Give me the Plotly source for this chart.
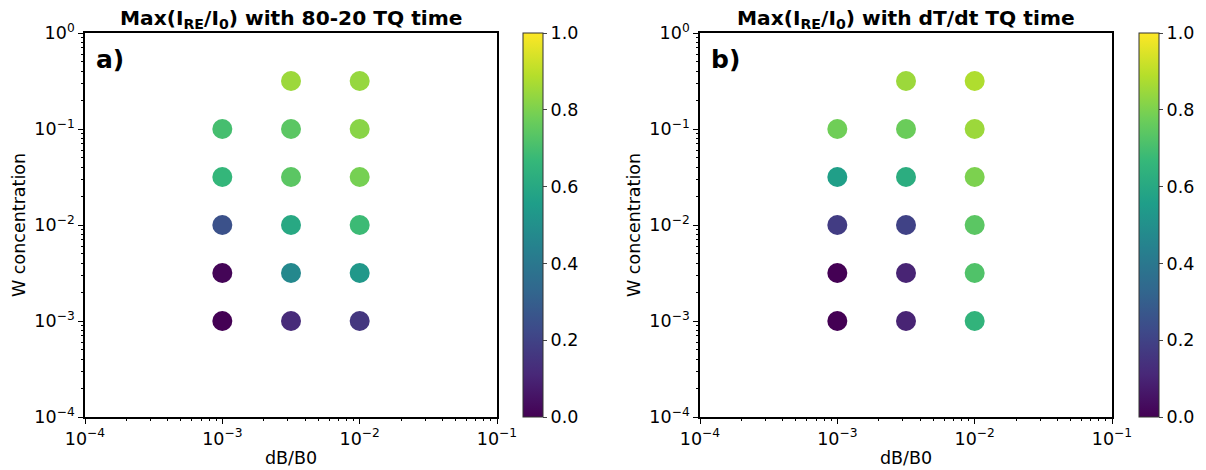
import plotly.graph_objects as go

# ---- data ----
db_b0 = [1e-3, 1e-3, 1e-3, 1e-3, 1e-3,
         10**-2.5, 10**-2.5, 10**-2.5, 10**-2.5, 10**-2.5, 10**-2.5,
         1e-2, 1e-2, 1e-2, 1e-2, 1e-2, 1e-2]
w_conc = [1e-3, 10**-2.5, 1e-2, 10**-1.5, 1e-1,
          1e-3, 10**-2.5, 1e-2, 10**-1.5, 1e-1, 10**-0.5,
          1e-3, 10**-2.5, 1e-2, 10**-1.5, 1e-1, 10**-0.5]
ire_8020 = [0.00, 0.01, 0.25, 0.66, 0.70,
            0.12, 0.47, 0.60, 0.74, 0.74, 0.85,
            0.16, 0.53, 0.68, 0.79, 0.82, 0.84]
ire_dtdt = [0.00, 0.00, 0.18, 0.56, 0.78,
            0.10, 0.10, 0.20, 0.62, 0.77, 0.85,
            0.65, 0.72, 0.74, 0.80, 0.85, 0.88]
titles = ["Max(I<sub>RE</sub>/I<sub>0</sub>) with 80-20 TQ time",
          "Max(I<sub>RE</sub>/I<sub>0</sub>) with dT/dt TQ time"]
panel_labels = ["a)", "b)"]
x_label = "dB/B0"
y_label = "W concentration"
decade_vals = [1e-4, 1e-3, 1e-2, 1e-1, 1e0]
decade_text = ["10<sup>\u22124</sup>", "10<sup>\u22123</sup>", "10<sup>\u22122</sup>",
               "10<sup>\u22121</sup>", "10<sup>0</sup>"]
cbar_vals = [0.0, 0.2, 0.4, 0.6, 0.8, 1.0]

W, H = 1206, 470
ML, MR, MT, MB = 40, 10, 10, 10
PW, PH = W - ML - MR, H - MT - MB
FONT = "DejaVu Sans"
FS = 17.5


def fx(px):
    return (px - ML) / PW


def fy(py):  # py measured from top of image
    return (H - MB - py) / PH


x_doms = [[fx(85), fx(497)], [fx(700), fx(1112)]]
y_dom = [fy(417), fy(33)]
cbar_x = [fx(523), fx(1139)]
ylab_x = [fx(19), fx(634)]

minor_x = [m * 10 ** k for k in range(-4, -1) for m in range(2, 10)]
minor_y = [m * 10 ** k for k in range(-4, 0) for m in range(2, 10)]

fig = go.Figure()
for i, vals in enumerate([ire_8020, ire_dtdt]):
    xa = "x" if i == 0 else "x2"
    ya = "y" if i == 0 else "y2"
    fig.add_trace(go.Scatter(
        x=db_b0, y=w_conc, mode="markers", xaxis=xa, yaxis=ya,
        marker=dict(size=20, color=vals, colorscale="Viridis", cmin=0, cmax=1,
                    line=dict(width=0),
                    showscale=True,
                    colorbar=dict(x=cbar_x[i], xanchor="left", xref="paper",
                                  y=y_dom[0], yanchor="bottom", len=y_dom[1] - y_dom[0],
                                  lenmode="fraction", thickness=20, thicknessmode="pixels",
                                  outlinewidth=1, outlinecolor="#333",
                                  tickvals=cbar_vals, ticktext=[f"{v:.1f}" for v in cbar_vals],
                                  ticks="outside", ticklen=4, tickwidth=1,
                                  tickfont=dict(family=FONT, size=FS, color="black"),
                                  xpad=0, ypad=0)),
        showlegend=False, hoverinfo="x+y"))

axis_common = dict(type="log", showgrid=False, zeroline=False, showline=True,
                   linecolor="black", linewidth=1.6, mirror=True, automargin=False,
                   ticks="outside", ticklen=5, tickwidth=1.2, tickcolor="black",
                   tickmode="array", tickvals=decade_vals, ticktext=decade_text,
                   tickfont=dict(family=FONT, size=FS, color="black"))

for i in range(2):
    sfx = "" if i == 0 else "2"
    xa = dict(axis_common, domain=x_doms[i], range=[-4, -1], anchor="y" + sfx,
              minor=dict(tickmode="array", tickvals=minor_x, ticks="outside", ticklen=2.5,
                         tickwidth=0.8, tickcolor="black", showgrid=False))
    ya = dict(axis_common, domain=y_dom, range=[-4, 0], anchor="x" + sfx,
              minor=dict(tickmode="array", tickvals=minor_y, ticks="outside", ticklen=2.5,
                         tickwidth=0.8, tickcolor="black", showgrid=False))
    fig.update_layout(**{"xaxis" + sfx: xa, "yaxis" + sfx: ya})
    fig.add_annotation(text="<b>" + titles[i] + "</b>", xref="x" + sfx + " domain",
                       yref="paper", x=0.5, y=y_dom[1] - 1 / PH, xanchor="center",
                       yanchor="bottom", showarrow=False,
                       font=dict(family=FONT, size=20.2, color="black"))
    fig.add_annotation(text="<b>" + panel_labels[i] + "</b>", xref="x" + sfx + " domain",
                       yref="y" + sfx + " domain", x=0.022, y=0.975, xanchor="left",
                       yanchor="top", showarrow=False,
                       font=dict(family=FONT, size=25, color="black"))
    fig.add_annotation(text=x_label, xref="x" + sfx + " domain", yref="paper",
                       x=0.5, y=fy(458), xanchor="center", yanchor="middle",
                       showarrow=False, font=dict(family=FONT, size=FS, color="black"))
    fig.add_annotation(text=y_label, xref="paper", yref="y" + sfx + " domain",
                       x=ylab_x[i], y=0.5, xanchor="center", yanchor="middle",
                       textangle=-90, showarrow=False,
                       font=dict(family=FONT, size=FS, color="black"))

fig.update_layout(width=W, height=H, margin=dict(l=ML, r=MR, t=MT, b=MB, autoexpand=False),
                  paper_bgcolor="white", plot_bgcolor="white",
                  font=dict(family=FONT, color="black"))

fig.write_html("out.html")
